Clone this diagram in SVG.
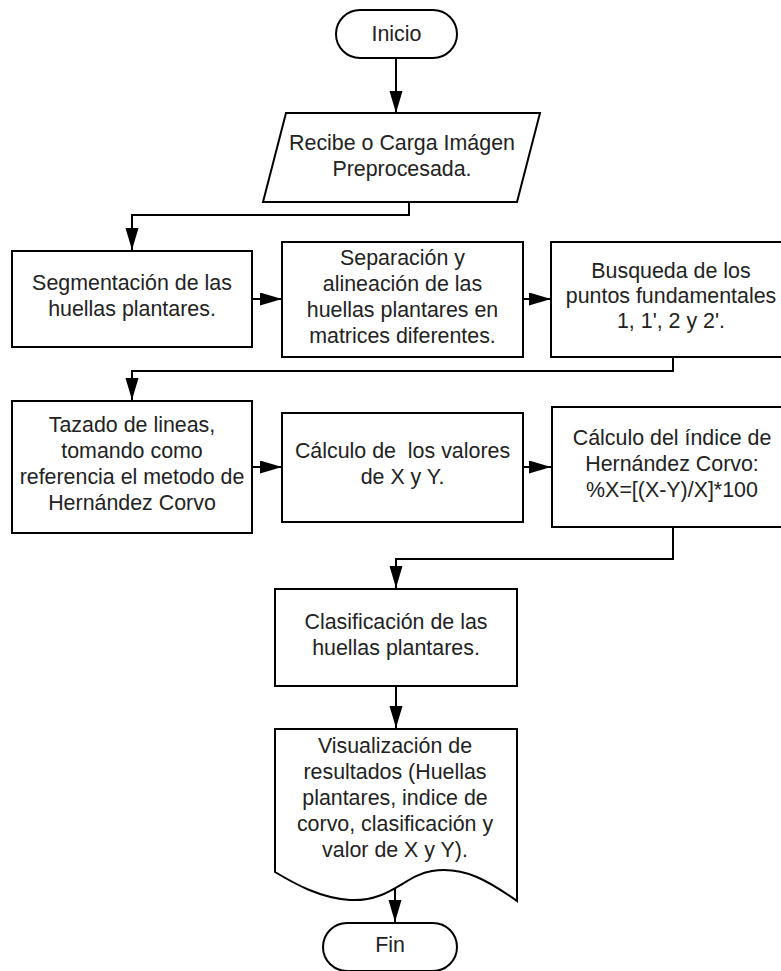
<svg xmlns="http://www.w3.org/2000/svg" width="781" height="971" viewBox="0 0 781 971">
  <style>
    .shape { fill: #ffffff; stroke: #000000; stroke-width: 2; }
    .edge { fill: none; stroke: #000000; stroke-width: 2; }
    text { font-family: "Liberation Sans", Arial, sans-serif; font-size: 21.4px; fill: #222222; text-anchor: middle; }
  </style>
  <defs>
    <marker id="arrow" markerUnits="userSpaceOnUse" markerWidth="23" markerHeight="14" refX="22" refY="6.5" orient="auto">
      <path d="M0,0 L22,6.5 L0,13 Z" fill="#000000"/>
    </marker>
  </defs>
  <rect width="781" height="971" fill="#ffffff"/>

  <g id="connectors">
    <line class="edge" x1="396" y1="58" x2="396" y2="113" marker-end="url(#arrow)"/>
    <polyline class="edge" points="409,202 409,215 132,215 132,250" marker-end="url(#arrow)"/>
    <line class="edge" x1="252" y1="299" x2="282" y2="299" marker-end="url(#arrow)"/>
    <line class="edge" x1="523" y1="299" x2="551" y2="299" marker-end="url(#arrow)"/>
    <polyline class="edge" points="673,357 673,371 132,371 132,400" marker-end="url(#arrow)"/>
    <line class="edge" x1="252" y1="467" x2="282" y2="467" marker-end="url(#arrow)"/>
    <line class="edge" x1="523" y1="467" x2="551" y2="467" marker-end="url(#arrow)"/>
    <polyline class="edge" points="673,527 673,559 396,559 396,588" marker-end="url(#arrow)"/>
    <line class="edge" x1="396" y1="686" x2="396" y2="728" marker-end="url(#arrow)"/>
    <line class="edge" x1="395" y1="886" x2="395" y2="922" marker-end="url(#arrow)"/>
  </g>

  <g id="inicio">
    <rect class="shape" x="336" y="10" width="121" height="48" rx="24" ry="24"/>
    <text x="396.5" y="41">Inicio</text>
  </g>

  <g id="carga-imagen">
    <polygon class="shape" points="286,113 540,113 517,202 263,202"/>
    <text x="402" y="150">Recibe o Carga Imágen</text>
    <text x="402" y="176">Preprocesada.</text>
  </g>

  <g id="segmentacion">
    <rect class="shape" x="12" y="251" width="240" height="96"/>
    <text x="132" y="290">Segmentación de las</text>
    <text x="132" y="316">huellas plantares.</text>
  </g>

  <g id="separacion">
    <rect class="shape" x="282" y="242" width="241" height="115"/>
    <text x="402.5" y="265">Separación y</text>
    <text x="402.5" y="291">alineación de las</text>
    <text x="402.5" y="317">huellas plantares en</text>
    <text x="402.5" y="343">matrices diferentes.</text>
  </g>

  <g id="busqueda">
    <rect class="shape" x="551" y="242" width="241" height="115"/>
    <text x="671" y="278">Busqueda de los</text>
    <text x="671" y="303">puntos fundamentales</text>
    <text x="671" y="328">1, 1', 2 y 2'.</text>
  </g>

  <g id="trazado">
    <rect class="shape" x="12" y="401" width="240" height="132"/>
    <text x="132" y="432">Tazado de lineas,</text>
    <text x="132" y="458">tomando como</text>
    <text x="132" y="484">referencia el metodo de</text>
    <text x="132" y="510">Hernández Corvo</text>
  </g>

  <g id="calculo-xy">
    <rect class="shape" x="282" y="413" width="241" height="109"/>
    <text x="402.5" y="458" xml:space="preserve">Cálculo de  los valores</text>
    <text x="402.5" y="484">de X y Y.</text>
  </g>

  <g id="indice">
    <rect class="shape" x="552" y="407" width="241" height="120"/>
    <text x="672" y="445">Cálculo del índice de</text>
    <text x="672" y="471">Hernández Corvo:</text>
    <text x="672" y="497">%X=[(X-Y)/X]*100</text>
  </g>

  <g id="clasificacion">
    <rect class="shape" x="275" y="589" width="242" height="97"/>
    <text x="396" y="629">Clasificación de las</text>
    <text x="396" y="655">huellas plantares.</text>
  </g>

  <g id="visualizacion">
    <path class="shape" d="M275,729 L517,729 L517,901 C490,882 465,866 432,871 C405,875 390,902 350,900 C320,898 295,884 275,872 Z"/>
    <text x="395" y="753">Visualización de</text>
    <text x="395" y="779">resultados (Huellas</text>
    <text x="395" y="805">plantares, indice de</text>
    <text x="395" y="831">corvo, clasificación y</text>
    <text x="395" y="857">valor de X y Y).</text>
  </g>

  <g id="fin">
    <rect class="shape" x="323" y="923" width="134" height="48" rx="24" ry="24"/>
    <text x="390" y="952">Fin</text>
  </g>
</svg>
